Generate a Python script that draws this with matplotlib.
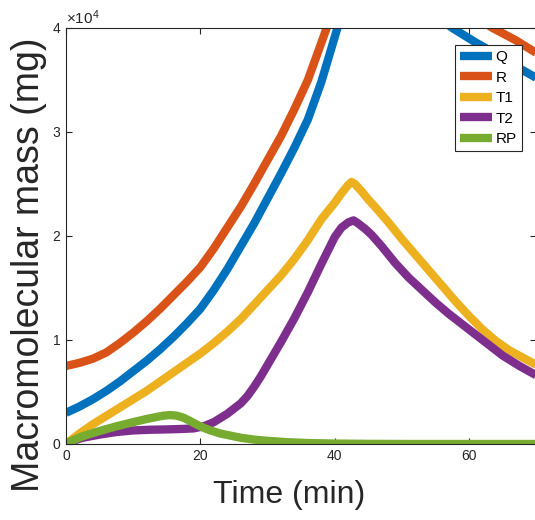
import matplotlib
matplotlib.use("Agg")
import matplotlib.pyplot as plt
from matplotlib.ticker import ScalarFormatter

# values, mass in mg
q_t = [0, 2, 4, 6, 8, 10, 12, 14, 16, 18, 20, 22, 24, 26, 28, 30, 32, 34, 36, 38, 40.4, 41.5, 42.5,
       43.5, 44.5, 46, 48, 50, 53, 57.5, 61, 64, 67, 70]
q_v = [3000, 3600, 4300, 5100, 6000, 7000, 8000, 9100, 10300, 11600, 13000, 14800, 16800, 19000,
       21200, 23600, 26000, 28500, 31200, 34800, 40000, 42500, 44500, 45500, 45700, 45200, 44300,
       43500, 42200, 40000, 38600, 37500, 36300, 35200]

r_t = [0, 2, 4, 6, 8, 10, 12, 14, 16, 18, 20, 22, 24, 26, 28, 30, 32, 34, 36, 38.8, 40.5, 42, 43, 44,
       46, 50, 55, 60, 63.5, 67, 70]
r_v = [7500, 7800, 8200, 8800, 9700, 10700, 11800, 13000, 14300, 15600, 17000, 18800, 20800, 22800,
       25000, 27300, 29600, 32200, 35000, 40000, 43500, 46500, 47500, 47700, 47000, 45500, 43500,
       41500, 40000, 38800, 37600]

t1_t = [0, 2, 4, 6, 8, 10, 12, 14, 16, 18, 20, 22, 24, 26, 28, 30, 32, 34, 36, 38, 40, 41, 42, 42.5,
        43, 44, 45, 46, 48, 50, 52, 54, 56, 58, 60, 62, 64, 66, 68, 70]
t1_v = [0, 1000, 1900, 2700, 3500, 4300, 5100, 6000, 6900, 7800, 8700, 9700, 10800, 12000, 13400,
        14800, 16200, 17800, 19600, 21600, 23200, 24100, 24900, 25200, 25000, 24300, 23500, 22800,
        21300, 19700, 18200, 16700, 15200, 13700, 12300, 11000, 9900, 9000, 8300, 7600]

t2_t = [0, 1, 2.5, 5, 7.5, 10, 12.5, 15, 17.5, 19, 20.5, 22, 23, 24, 25, 26, 27, 28, 29, 30, 32, 34,
        36, 38, 40, 41, 42, 42.8, 43.5, 44.5, 45.5, 47, 49, 51, 53, 55, 57, 59, 61, 63, 65, 67.5, 70]
t2_v = [0, 300, 600, 900, 1150, 1300, 1370, 1400, 1450, 1500, 1700, 2100, 2500, 2900, 3400, 3900,
        4600, 5500, 6500, 7600, 9800, 12100, 14600, 17300, 19900, 20800, 21300, 21500, 21200, 20700,
        20100, 19000, 17400, 16000, 14800, 13600, 12500, 11500, 10500, 9500, 8500, 7500, 6600]

rp_t = [0, 1, 2.5, 5, 7.5, 10, 12, 13.5, 14.5, 15.5, 16.5, 17.5, 18.5, 19.5, 20.5, 21.5, 23, 24.5,
        26, 28, 30, 33, 36, 40, 45, 50, 70]
rp_v = [0, 350, 750, 1250, 1700, 2100, 2400, 2600, 2720, 2780, 2720, 2520, 2200, 1850, 1550, 1300,
        1000, 800, 600, 420, 300, 170, 90, 40, 10, 0, 0]

labels = ["Q", "R", "T1", "T2", "RP"]
colors = ["#0072BD", "#D95319", "#EDB120", "#7E2F8E", "#77AC30"]

plt.rcParams['font.family'] = ['Liberation Sans', 'DejaVu Sans']
plt.rcParams['mathtext.fontset'] = 'custom'
plt.rcParams['mathtext.rm'] = 'Liberation Sans'
plt.rcParams['mathtext.it'] = 'Liberation Sans'

fig = plt.figure(figsize=(5.35, 5.2), dpi=100)
ax = fig.add_axes([0.1234, 0.1462, 0.879, 0.8])

series = [(q_t, q_v), (r_t, r_v), (t1_t, t1_v), (t2_t, t2_v), (rp_t, rp_v)]
for (t, v), lab, c in zip(series, labels, colors):
    ax.plot(t, v, color=c, linewidth=6, label=lab, solid_capstyle='butt', solid_joinstyle='round')

ax.set_xlim(0, 70)
ax.set_ylim(0, 40000)
ax.set_xticks([0, 20, 40, 60])
ax.set_yticks([0, 10000, 20000, 30000, 40000])

fmt = ScalarFormatter(useMathText=True)
fmt.set_powerlimits((0, 0))
ax.yaxis.set_major_formatter(fmt)
ax.yaxis.get_offset_text().set_fontsize(11)
ax.yaxis.get_offset_text().set_color('#262626')

ax.tick_params(direction='in', length=4, width=0.8, labelsize=10, colors='#262626',
               top=True, right=True)
for s in ax.spines.values():
    s.set_color('#262626')
    s.set_linewidth(0.8)

ax.set_xlabel("Time (min)", fontsize=23, color='#262626')
ax.xaxis.set_label_coords(0.474, -0.086)
ax.set_ylabel("Macromolecular mass (mg)", fontsize=27, color='#262626')
ax.yaxis.set_label_coords(-0.04, 0.43)

leg = ax.legend(loc='upper right', bbox_to_anchor=(0.9696, 0.959), fontsize=11,
                fancybox=False, framealpha=1, edgecolor='#262626', borderpad=0.35,
                labelspacing=0.42, handlelength=2.1, handletextpad=0.2, borderaxespad=0)
leg.get_frame().set_linewidth(0.8)

fig.savefig("out.png", dpi=100)
